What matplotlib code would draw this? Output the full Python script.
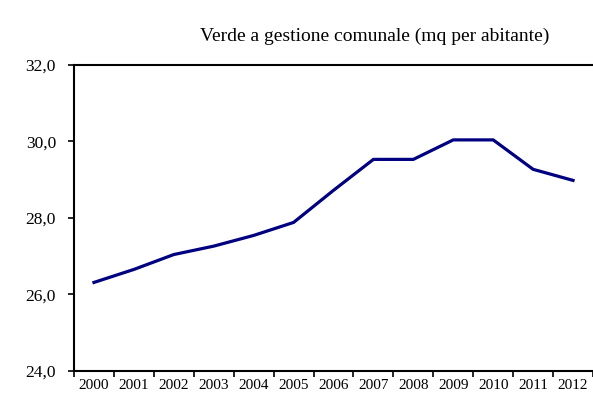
import matplotlib
matplotlib.use("Agg")
import matplotlib.pyplot as plt
import numpy as np

years = ["2000", "2001", "2002", "2003", "2004", "2005", "2006",
         "2007", "2008", "2009", "2010", "2011", "2012"]
verde_mq = [26.31, 26.65, 27.04, 27.26, 27.54, 27.88, 28.72,
            29.53, 29.53, 30.04, 30.04, 29.27, 28.98]
y_ticks = [24.0, 26.0, 28.0, 30.0, 32.0]
title = "Verde a gestione comunale (mq per abitante)"

plt.rcParams["font.family"] = ["Liberation Serif", "DejaVu Serif"]

fig = plt.figure(figsize=(5.93, 3.95), dpi=100)
ax = fig.add_axes([74 / 593, 24.3 / 395, 519 / 593, 305.7 / 395])

x = np.arange(len(years))
ax.plot(x, verde_mq, color="#000080", linewidth=2.3, solid_joinstyle="miter")

ax.set_xlim(-0.5, len(years) - 0.5)
ax.set_ylim(y_ticks[0], y_ticks[-1])

ax.set_yticks(y_ticks)
ax.set_yticklabels([f"{v:.1f}".replace(".", ",") for v in y_ticks], fontsize=12.5)
ax.tick_params(axis="y", direction="out", length=4, width=1.2, pad=9, colors="black")

ax.set_xticks(x)
ax.set_xticklabels(years, fontsize=11)
ax.set_xticks(np.arange(-0.5, len(years), 1.0), minor=True)
ax.tick_params(axis="x", which="major", length=0, pad=6)
ax.tick_params(axis="x", which="minor", direction="out", length=4, width=1.2)

for side in ("left", "bottom", "top"):
    ax.spines[side].set_linewidth(1.5)
    ax.spines[side].set_color("black")
ax.spines["right"].set_visible(False)

fig.text(375 / 593, 1 - 36 / 395, title, ha="center", va="center", fontsize=14)

fig.savefig("out.png", dpi=100)
